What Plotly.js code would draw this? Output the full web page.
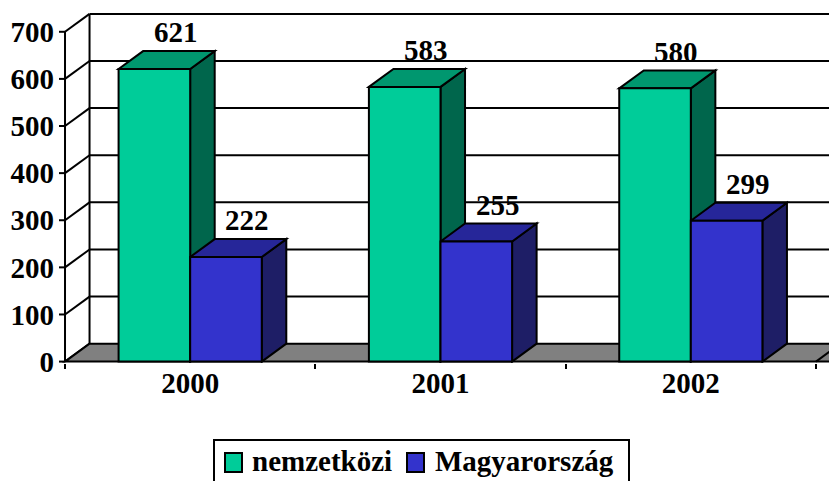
<!DOCTYPE html>
<html>
<head>
<meta charset="utf-8">
<script src="https://cdn.plot.ly/plotly-3.0.1.min.js"></script>
<style>html,body{margin:0;padding:0;background:#fff;}#chart{width:829px;height:481px;}</style>
</head>
<body>
<div id="chart"></div>
<script>
// ---- data ----
const categories = ['2000', '2001', '2002'];
const nemzetkozi = [621, 583, 580];
const magyarorszag = [222, 255, 299];
const seriesNames = ['nemzetközi', 'Magyarország'];
const yTickValues = [0, 100, 200, 300, 400, 500, 600, 700];

// ---- style / geometry ----
const FONT = 'Liberation Serif, Times New Roman, serif';
const FS = 29;
const LW = 2;
const BARGAP = 0.428;
const BW = (1 - BARGAP) / 2;       // width of one bar in category units
const DX = 0.098;                  // depth offset (category units)
const DY = 38;                     // depth offset (value units)
const YMAX = yTickValues[yTickValues.length - 1];
const X0 = -0.5, X1 = categories.length - 0.5;
const TICKX = 0.024;

// layout frame (pixels)
const W = 829, H = 481, ML = 57, MR = 0, MT = 12, MB = 118;
const PW = W - ML - MR, PH = H - MT - MB;
const px2paperX = px => (px - ML) / PW;
const px2paperY = py => (H - MB - py) / PH;

const cols = [
  {front: '#00CC99', top: '#00976F', side: '#00664C'},
  {front: '#3333CC', top: '#262699', side: '#1E1E66'}
];
const seriesVals = [nemzetkozi, magyarorszag];

const shapes = [];
const line = {color: '#000', width: LW};
function poly(pts, fill) {
  const d = 'M' + pts.map(p => p[0] + ',' + p[1]).join('L') + 'Z';
  shapes.push({type: 'path', xref: 'x', yref: 'y', path: d, fillcolor: fill, line: line, layer: 'below'});
}
function seg(xa, ya, xb, yb, w) {
  shapes.push({type: 'line', xref: 'x', yref: 'y', x0: xa, y0: ya, x1: xb, y1: yb,
    line: {color: '#000', width: w || LW}, layer: 'below'});
}

// back wall grid lines + left wall diagonals
yTickValues.forEach(v => {
  if (v > 0) seg(X0 + DX, v + DY, X1 + 2 * DX, v + DY);
  seg(X0, v, X0 + DX, v + DY);
  seg(X0 - TICKX, v, X0, v);           // y tick marks
});
seg(X0 + DX, DY, X0 + DX, YMAX + DY);   // back wall left edge
// floor
poly([[X0, 0], [X0 + DX, DY], [X1 + 2 * DX, DY], [X1 + DX, 0]], '#808080');
seg(X1, 0, X1 + DX, DY);
// front y axis line
seg(X0, 0, X0, YMAX);

// 3D faces of the bars
categories.forEach((c, i) => {
  seriesVals.forEach((vals, s) => {
    const v = vals[i];
    const xa = i - BW + s * BW, xb = xa + BW;
    poly([[xb, 0], [xb + DX, DY], [xb + DX, v + DY], [xb, v]], cols[s].side);
    poly([[xa, v], [xa + DX, v + DY], [xb + DX, v + DY], [xb, v]], cols[s].top);
  });
});

// value labels
const annotations = [];
categories.forEach((c, i) => {
  seriesVals.forEach((vals, s) => {
    const v = vals[i];
    annotations.push({
      x: i - BW / 2 + s * BW + 0.085, y: v + 78, xref: 'x', yref: 'y',
      text: String(v), showarrow: false, xanchor: 'center', yanchor: 'middle',
      font: {family: FONT, size: FS, color: '#000', weight: 700}
    });
  });
});

// legend (drawn manually so the swatches match the original size)
const legendBox = {x0: 214, x1: 629, y0: 440, y1: 492};
shapes.push({type: 'rect', xref: 'paper', yref: 'paper',
  x0: px2paperX(legendBox.x0), x1: px2paperX(legendBox.x1),
  y0: px2paperY(legendBox.y1), y1: px2paperY(legendBox.y0),
  fillcolor: '#fff', line: {color: '#000', width: 2}, layer: 'above'});
const legendItems = [{sx: 225, tx: 250}, {sx: 407, tx: 433}];
legendItems.forEach((it, s) => {
  shapes.push({type: 'rect', xref: 'paper', yref: 'paper',
    x0: px2paperX(it.sx), x1: px2paperX(it.sx + 17),
    y0: px2paperY(472), y1: px2paperY(453),
    fillcolor: cols[s].front, line: {color: '#000', width: 2}, layer: 'above'});
  annotations.push({x: px2paperX(it.tx), y: px2paperY(461), xref: 'paper', yref: 'paper',
    text: seriesNames[s], showarrow: false, xanchor: 'left', yanchor: 'middle',
    font: {family: FONT, size: FS, color: '#000', weight: 700}});
});

const traces = seriesVals.map((vals, s) => ({
  type: 'bar', x: categories, y: vals, name: seriesNames[s],
  marker: {color: cols[s].front, line: {color: '#000', width: LW}},
  hoverinfo: 'skip'
}));

const layout = {
  width: W, height: H,
  margin: {l: ML, r: MR, t: MT, b: MB},
  paper_bgcolor: '#fff', plot_bgcolor: '#fff',
  barmode: 'group', bargap: BARGAP, bargroupgap: 0,
  showlegend: false,
  font: {family: FONT, size: FS, color: '#000', weight: 700},
  xaxis: {
    type: 'category', range: [-0.532, 2.552],
    showgrid: false, zeroline: false, showline: false,
    tickson: 'boundaries', ticks: 'outside', ticklen: 5, tickwidth: LW, tickcolor: '#000',
    tickfont: {family: FONT, size: FS, color: '#000', weight: 700}, fixedrange: true
  },
  yaxis: {
    range: [-3, 742], tickvals: yTickValues, ticktext: yTickValues.map(String),
    showgrid: false, zeroline: false, showline: false, ticks: '',
    ticklabelstandoff: 2,
    tickfont: {family: FONT, size: FS, color: '#000', weight: 700}, fixedrange: true
  },
  shapes: shapes,
  annotations: annotations
};

Plotly.newPlot('chart', traces, layout, {displayModeBar: false, staticPlot: true});
</script>
</body>
</html>
